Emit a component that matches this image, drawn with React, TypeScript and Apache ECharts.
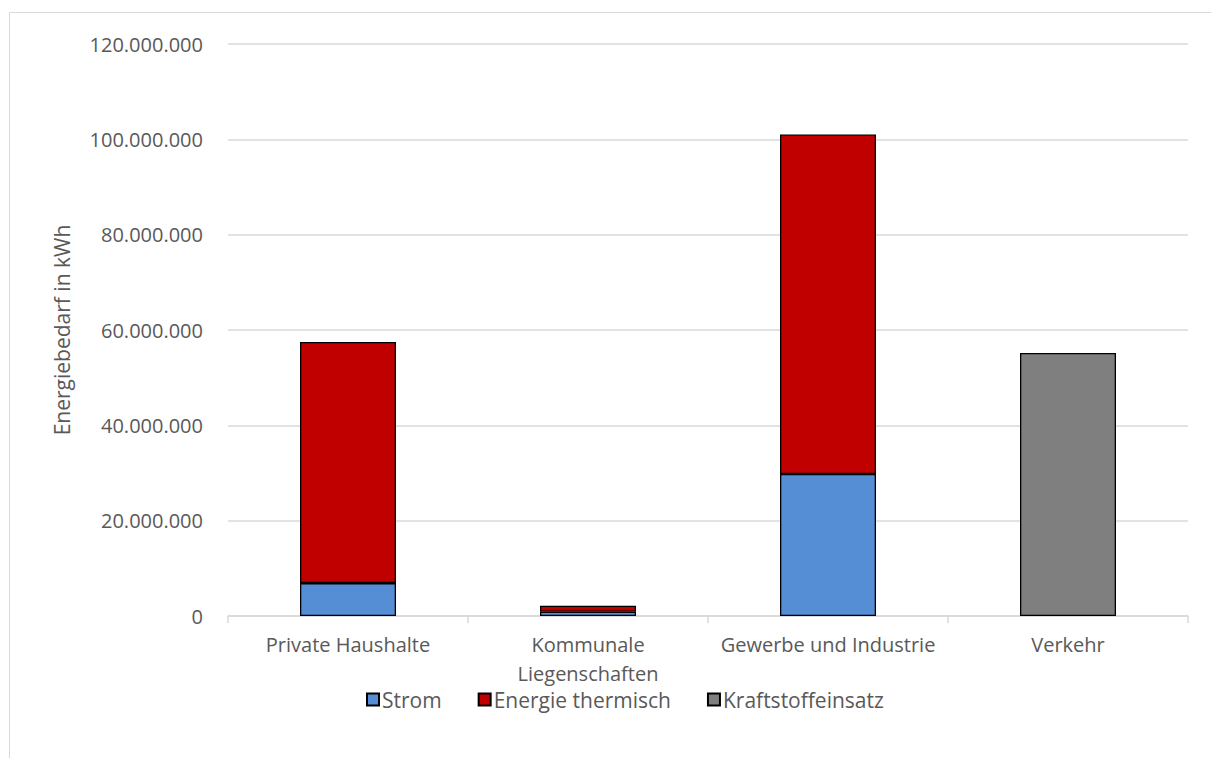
import React, { useEffect, useRef } from "react";
import * as echarts from "echarts";

const categories = ["Private Haushalte", "Kommunale\nLiegenschaften", "Gewerbe und Industrie", "Verkehr"];
const strom = [6900000, 900000, 29800000, null];
const thermisch = [50600000, 1250000, 71200000, null];
const kraftstoff = [null, null, null, 55200000];
const yTicks = { min: 0, max: 120000000, interval: 20000000 };

const FONT = "'Open Sans', 'Noto Sans', sans-serif";
const TXT = "#595959";
const GRID = "#d9d9d9";

function fmtDE(v: number): string {
  return String(Math.round(v)).replace(/\B(?=(\d{3})+(?!\d))/g, ".");
}

export default function App() {
  const ref = useRef<HTMLDivElement>(null);
  useEffect(() => {
    if (!ref.current) return;
    const chart = echarts.init(ref.current, null, { renderer: "svg" });
    const barStyle = (color: string) => ({ color, borderColor: "#000", borderWidth: 1.3 });
    chart.setOption({
      animation: false,
      backgroundColor: "#fff",
      textStyle: { fontFamily: FONT },
      graphic: [
        {
          type: "rect",
          shape: { x: 9.5, y: 12.5, width: 1400, height: 1000 },
          style: { fill: "none", stroke: GRID, lineWidth: 1 },
          silent: true,
        },
      ],
      grid: { left: 228, right: 23, top: 44, bottom: 142 },
      legend: {
        bottom: 43,
        left: 361,
        itemWidth: 12,
        itemHeight: 12,
        itemGap: 36,
        icon: "rect",
        textStyle: { color: TXT, fontSize: 21, fontFamily: FONT, padding: [0, 0, 0, -2] },
        data: ["Strom", "Energie thermisch", "Kraftstoffeinsatz"],
      },
      xAxis: {
        type: "category",
        data: categories,
        axisLine: { lineStyle: { color: GRID, width: 1.5 } },
        axisTick: { show: true, length: 7, lineStyle: { color: GRID, width: 1.5 } },
        axisLabel: { color: TXT, fontSize: 20, margin: 14, lineHeight: 29, fontFamily: FONT, interval: 0 },
      },
      yAxis: {
        type: "value",
        min: yTicks.min,
        max: yTicks.max,
        interval: yTicks.interval,
        name: "Energiebedarf in kWh",
        nameLocation: "middle",
        nameGap: 156,
        nameTextStyle: { color: TXT, fontSize: 21, fontFamily: FONT },
        axisLine: { show: false },
        axisTick: { show: false },
        splitLine: { lineStyle: { color: GRID, width: 1.5 } },
        axisLabel: { color: TXT, fontSize: 20, margin: 25, fontFamily: FONT, formatter: (v: number) => fmtDE(v) },
      },
      series: [
        { name: "Strom", type: "bar", stack: "t", data: strom, barWidth: "40%", itemStyle: barStyle("#558ED5") },
        { name: "Energie thermisch", type: "bar", stack: "t", data: thermisch, itemStyle: barStyle("#C00000") },
        { name: "Kraftstoffeinsatz", type: "bar", stack: "t", data: kraftstoff, itemStyle: barStyle("#7F7F7F") },
      ],
    });
    return () => chart.dispose();
  }, []);
  return (
    <div
      ref={ref}
      style={{ position: "fixed", left: 0, top: 0, width: 1211, height: 758, background: "#fff" }}
    />
  );
}
